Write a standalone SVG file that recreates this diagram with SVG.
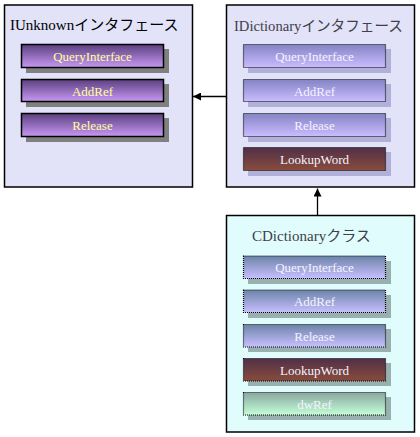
<svg xmlns="http://www.w3.org/2000/svg" width="420" height="437" viewBox="0 0 420 437">
<defs>
<linearGradient id="gPurple" x1="0" y1="0" x2="0" y2="1"><stop offset="0" stop-color="#5c4080"/><stop offset="1" stop-color="#c898f4"/></linearGradient>
<linearGradient id="gLav" x1="0" y1="0" x2="0" y2="1"><stop offset="0" stop-color="#8484c4"/><stop offset="1" stop-color="#cabcff"/></linearGradient>
<linearGradient id="gBrown" x1="0" y1="0" x2="0" y2="1"><stop offset="0" stop-color="#503048"/><stop offset="1" stop-color="#8a4c3c"/></linearGradient>
<linearGradient id="gCyanLav" x1="0" y1="0" x2="0" y2="1"><stop offset="0" stop-color="#6c84a8"/><stop offset="1" stop-color="#c8c0ff"/></linearGradient>
<linearGradient id="gGreen" x1="0" y1="0" x2="0" y2="1"><stop offset="0" stop-color="#8aa8a0"/><stop offset="1" stop-color="#c4ffd8"/></linearGradient>
<marker id="ah" viewBox="0 0 10 10" refX="10" refY="5" markerWidth="8" markerHeight="8" orient="auto" markerUnits="userSpaceOnUse"><path d="M0,0 L10,5 L0,10 Z" fill="#000"/></marker>
</defs>
<style>
.box{stroke:#000;stroke-width:1.5}
.title{font-family:"Liberation Serif","Noto Sans CJK JP",serif;font-size:15px;fill:#000}
.t2{fill:#404048}
.btn{stroke:#000;stroke-width:1.5}
.dot{stroke:#000;stroke-width:1.2;stroke-dasharray:1 1}
.lbl{font-family:"Liberation Serif","Noto Sans CJK JP",serif;font-size:13px;text-anchor:middle}
.y{fill:#ffff99}
.w{fill:#f4f4ff}
.sh1{fill:#808080}
.sh2{fill:#b0b0d8}
.sh3{fill:#98b0b0}
.conn{stroke:#000;stroke-width:1.3;fill:none}
</style>
<g id="iunknown">
<rect class="box" x="4.5" y="5" width="188" height="182" fill="#e2e2f8"/>
<text class="title" x="10" y="30">IUnknownインタフェース</text>
<rect class="sh1" x="26" y="49" width="143" height="24"/>
<rect class="btn" x="21.5" y="44.5" width="142" height="23" fill="url(#gPurple)"/>
<text class="lbl y" x="92.5" y="61">QueryInterface</text>
<rect class="sh1" x="26" y="84" width="143" height="23"/>
<rect class="btn" x="21.5" y="79.5" width="142" height="22" fill="url(#gPurple)"/>
<text class="lbl y" x="92.5" y="95.5">AddRef</text>
<rect class="sh1" x="26" y="118" width="143" height="24"/>
<rect class="btn" x="21.5" y="113.5" width="142" height="23" fill="url(#gPurple)"/>
<text class="lbl y" x="92.5" y="130">Release</text>
</g>
<g id="idictionary">
<rect class="box" x="226.5" y="5" width="188" height="182" fill="#e2e2f8"/>
<text class="title t2" x="234" y="31" textLength="169" lengthAdjust="spacingAndGlyphs">IDictionaryインタフェース</text>
<rect class="sh2" x="248" y="49" width="143" height="24"/>
<rect class="dot" x="243.5" y="44.5" width="142" height="23" fill="url(#gLav)"/>
<text class="lbl w" x="314.5" y="61">QueryInterface</text>
<rect class="sh2" x="248" y="84" width="143" height="23"/>
<rect class="dot" x="243.5" y="79.5" width="142" height="22" fill="url(#gLav)"/>
<text class="lbl w" x="314.5" y="95.5">AddRef</text>
<rect class="sh2" x="248" y="118" width="143" height="24"/>
<rect class="dot" x="243.5" y="113.5" width="142" height="23" fill="url(#gLav)"/>
<text class="lbl w" x="314.5" y="130">Release</text>
<rect class="sh2" x="248" y="152" width="143" height="24"/>
<rect class="dot" x="243.5" y="147.5" width="142" height="23" fill="url(#gBrown)"/>
<text class="lbl w" x="314.5" y="164">LookupWord</text>
</g>
<g id="cdictionary">
<rect class="box" x="226.5" y="215.5" width="188" height="216.5" fill="#e0fcfc"/>
<text class="title t2" x="252" y="241">CDictionaryクラス</text>
<rect class="sh3" x="248" y="261" width="143" height="23"/>
<rect class="dot" x="243.5" y="256" width="142" height="22.5" fill="url(#gCyanLav)"/>
<text class="lbl w" x="314.5" y="272">QueryInterface</text>
<rect class="sh3" x="248" y="295" width="143" height="23"/>
<rect class="dot" x="243.5" y="290" width="142" height="22.5" fill="url(#gCyanLav)"/>
<text class="lbl w" x="314.5" y="306">AddRef</text>
<rect class="sh3" x="248" y="329" width="143" height="23"/>
<rect class="dot" x="243.5" y="324.5" width="142" height="22.5" fill="url(#gCyanLav)"/>
<text class="lbl w" x="314.5" y="340.5">Release</text>
<rect class="sh3" x="248" y="363" width="143" height="23"/>
<rect class="dot" x="243.5" y="358.5" width="142" height="22.5" fill="url(#gBrown)"/>
<text class="lbl w" x="314.5" y="374.5">LookupWord</text>
<rect class="sh3" x="248" y="397" width="143" height="23"/>
<rect class="dot" x="243.5" y="392.5" width="142" height="22.5" fill="url(#gGreen)"/>
<text class="lbl w" x="314.5" y="408.5">dwRef</text>
</g>
<g id="connectors">
<line class="conn" x1="226" y1="96.5" x2="193" y2="96.5" marker-end="url(#ah)"/>
<line class="conn" x1="317.5" y1="215" x2="317.5" y2="188.5" marker-end="url(#ah)"/>
</g>
</svg>
